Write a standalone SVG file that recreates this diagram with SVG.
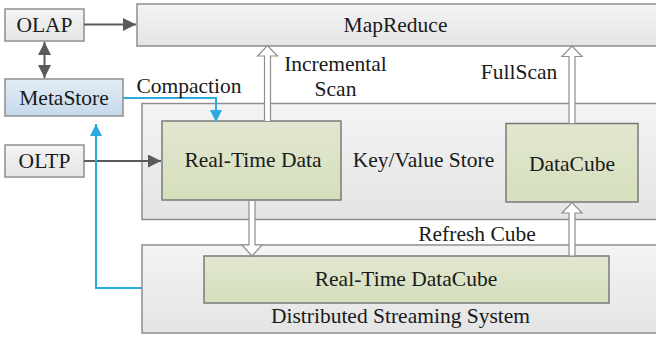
<svg xmlns="http://www.w3.org/2000/svg" width="656" height="337" viewBox="0 0 656 337">
<defs>
<linearGradient id="gGray" x1="0" y1="0" x2="0" y2="1"><stop offset="0" stop-color="#f4f4f4"/><stop offset="1" stop-color="#e4e4e4"/></linearGradient>
<linearGradient id="gGreen" x1="0" y1="0" x2="0" y2="1"><stop offset="0" stop-color="#e1e7d0"/><stop offset="1" stop-color="#d6dfbc"/></linearGradient>
<linearGradient id="gBlue" x1="0" y1="0" x2="0" y2="1"><stop offset="0" stop-color="#e3ecf5"/><stop offset="1" stop-color="#c6d9ec"/></linearGradient>
<marker id="ah" viewBox="0 0 10 10" refX="10" refY="5" markerWidth="6.5" markerHeight="6.5" orient="auto" markerUnits="strokeWidth"><path d="M0,0 L10,5 L0,10 z" fill="#5a5a5a"/></marker>
<marker id="ahb" viewBox="0 0 10 10" refX="10" refY="5" markerWidth="6" markerHeight="6" orient="auto" markerUnits="strokeWidth"><path d="M0,0 L10,5 L0,10 z" fill="#29abe2"/></marker>
</defs>
<g id="mapreduce"><rect fill="url(#gGray)" stroke="#8e8e8e" stroke-width="1.5" x="137" y="4" width="525" height="42"/><text style="font-family:'Liberation Serif','Times New Roman',serif;font-size:21.5px" text-anchor="middle" fill="#1a1a1a" x="395.5" y="32">MapReduce</text></g>
<g id="kvstore"><rect fill="url(#gGray)" stroke="#8e8e8e" stroke-width="1.5" x="142" y="103.5" width="520" height="116"/><text style="font-family:'Liberation Serif','Times New Roman',serif;font-size:21.5px" text-anchor="middle" fill="#1a1a1a" x="423.5" y="167">Key/Value Store</text></g>
<g id="dss"><rect fill="url(#gGray)" stroke="#8e8e8e" stroke-width="1.5" x="142" y="245" width="520" height="88"/><text style="font-family:'Liberation Serif','Times New Roman',serif;font-size:21.5px" text-anchor="middle" fill="#1a1a1a" x="400.5" y="322.5">Distributed Streaming System</text></g>
<g id="olap"><rect fill="url(#gGray)" stroke="#8e8e8e" stroke-width="1.5" x="5" y="9" width="79" height="32"/><text style="font-family:'Liberation Serif','Times New Roman',serif;font-size:21.5px" text-anchor="middle" fill="#1a1a1a" x="44.5" y="32">OLAP</text></g>
<g id="metastore"><rect fill="url(#gBlue)" stroke="#8e8e8e" stroke-width="1.5" x="5" y="79" width="118" height="37"/><text style="font-family:'Liberation Serif','Times New Roman',serif;font-size:21.5px" text-anchor="middle" fill="#1a1a1a" x="64" y="105">MetaStore</text></g>
<g id="oltp"><rect fill="url(#gGray)" stroke="#8e8e8e" stroke-width="1.5" x="5" y="145" width="79" height="32"/><text style="font-family:'Liberation Serif','Times New Roman',serif;font-size:21.5px" text-anchor="middle" fill="#1a1a1a" x="44.5" y="168">OLTP</text></g>
<g id="rtdata"><rect fill="url(#gGreen)" stroke="#7a7a7a" stroke-width="1.5" x="162" y="121" width="179" height="79"/><text style="font-family:'Liberation Serif','Times New Roman',serif;font-size:21.5px" text-anchor="middle" fill="#1a1a1a" x="253" y="167">Real-Time Data</text></g>
<g id="datacube"><rect fill="url(#gGreen)" stroke="#7a7a7a" stroke-width="1.5" x="506" y="123.5" width="132" height="78.5"/><text style="font-family:'Liberation Serif','Times New Roman',serif;font-size:21.5px" text-anchor="middle" fill="#1a1a1a" x="572" y="171">DataCube</text></g>
<g id="rtdatacube"><rect fill="url(#gGreen)" stroke="#7a7a7a" stroke-width="1.5" x="204" y="256" width="405" height="47"/><text style="font-family:'Liberation Serif','Times New Roman',serif;font-size:21.5px" text-anchor="middle" fill="#1a1a1a" x="406" y="286">Real-Time DataCube</text></g>
<g id="connectors">
<g fill="none" stroke="#5a5a5a" stroke-width="2">
<line x1="84" y1="24.5" x2="136" y2="24.5" marker-end="url(#ah)"/>
<line x1="44.5" y1="60" x2="44.5" y2="42" marker-end="url(#ah)"/>
<line x1="44.5" y1="60" x2="44.5" y2="78" marker-end="url(#ah)"/>
<line x1="84" y1="161" x2="161" y2="161" marker-end="url(#ah)"/>
</g>
<g fill="none" stroke="#29abe2" stroke-width="2">
<polyline points="123,98 216,98 216,122" marker-end="url(#ahb)"/>
<polyline points="142,288 96,288 96,124" marker-end="url(#ahb)"/>
</g>
<g fill="#ffffff" stroke="#8e8e8e" stroke-width="1.2">
<polygon points="264.5,121.5 264.5,56 257.5,56 267.5,45.5 277.5,56 270.5,56 270.5,121.5"/>
<polygon points="569,123.5 569,56.5 562,56.5 572,46 582,56.5 575,56.5 575,123.5"/>
<polygon points="249,200.5 249,245 242,245 252,256 262,245 255,245 255,200.5"/>
<polygon points="569,256 569,213 562,213 572,202.5 582,213 575,213 575,256"/>
</g>
<text style="font-family:'Liberation Serif','Times New Roman',serif;font-size:21.5px" text-anchor="middle" fill="#1a1a1a" x="335.5" y="70.5">Incremental</text>
<text style="font-family:'Liberation Serif','Times New Roman',serif;font-size:21.5px" text-anchor="middle" fill="#1a1a1a" x="335.5" y="96">Scan</text>
<text style="font-family:'Liberation Serif','Times New Roman',serif;font-size:21.5px" text-anchor="middle" fill="#1a1a1a" x="519" y="79">FullScan</text>
<text style="font-family:'Liberation Serif','Times New Roman',serif;font-size:21.5px" text-anchor="middle" fill="#1a1a1a" x="189" y="93">Compaction</text>
<text style="font-family:'Liberation Serif','Times New Roman',serif;font-size:21.5px" text-anchor="middle" fill="#1a1a1a" x="477" y="241">Refresh Cube</text>
</g>
</svg>
